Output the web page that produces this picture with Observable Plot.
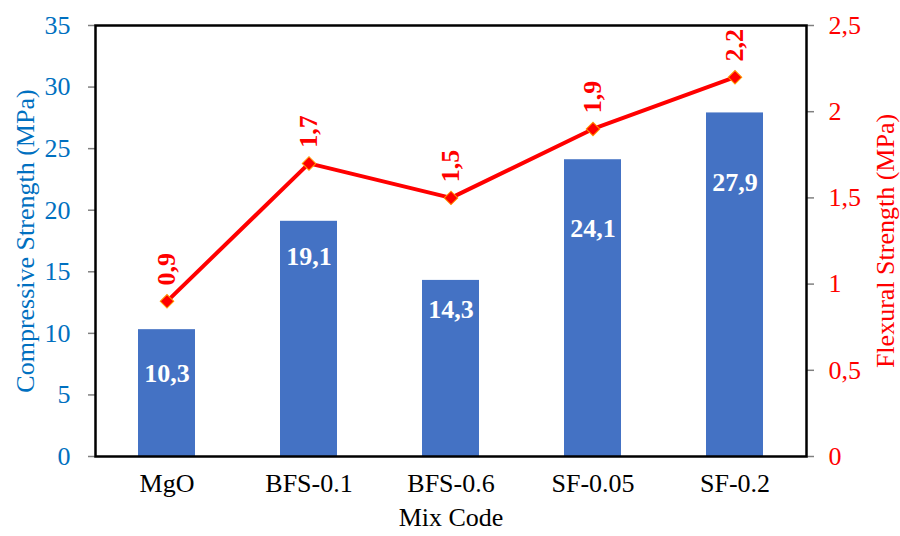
<!DOCTYPE html>
<html>
<head>
<meta charset="utf-8">
<script src="https://cdn.jsdelivr.net/npm/d3@7"></script>
<script src="https://cdn.jsdelivr.net/npm/@observablehq/plot@0.6"></script>
<style>
  body { margin: 0; background: #fff; }
</style>
</head>
<body>
<div id="chart"></div>
<script>
const categories = ["MgO", "BFS-0.1", "BFS-0.6", "SF-0.05", "SF-0.2"];
const compressive = [10.3, 19.1, 14.3, 24.1, 27.9];
const flexural = [0.9, 1.7, 1.5, 1.9, 2.2];
// label anchor heights (MPa)
const barLabelAt = [6.7, 16.2, 11.9, 18.5, 22.2];
const leftTicks = [0, 5, 10, 15, 20, 25, 30, 35];
const rightTicks = [0, 0.5, 1, 1.5, 2, 2.5];
const yMax = 35, y2Max = 2.5;
const ratio = yMax / y2Max;

const comma = v => String(v).replace(".", ",");
const rows = categories.map((c, i) => ({
  cat: c, comp: compressive[i], flex: flexural[i], flexY: flexural[i] * ratio, labY: barLabelAt[i]
}));

const blue = "#0070C0", red = "#FF0000", barBlue = "#4472C4";
const font = "Liberation Serif";

const boundaryTicks = Plot.ruleX([0], {
  render: (index, scales, values, dim) => {
    const g = d3.create("svg:g");
    const n = categories.length;
    const step = (dim.width - dim.marginLeft - dim.marginRight) / n;
    const y0 = dim.height - dim.marginBottom;
    for (let i = 0; i <= n; i++) {
      const x = dim.marginLeft + i * step;
      g.append("line").attr("x1", x).attr("x2", x).attr("y1", y0).attr("y2", y0 + 7)
        .attr("stroke", "#808080").attr("stroke-width", 1.5);
    }
    return g.node();
  }
});

const plot = Plot.plot({
  width: 900,
  height: 536,
  marginLeft: 95,
  marginRight: 94,
  marginTop: 25,
  marginBottom: 80,
  style: "font-family: 'Liberation Serif'; font-size: 26px; background: white;",
  x: { domain: categories, paddingInner: 0.6, paddingOuter: 0.3, axis: null },
  y: { domain: [0, yMax], axis: null },
  marks: [
    Plot.barY(rows, { x: "cat", y: "comp", fill: barBlue }),
    Plot.axisY({ anchor: "left", ticks: leftTicks, tickSize: 7, stroke: "#808080", strokeWidth: 1.5, text: null, label: null }),
    Plot.axisY({ anchor: "left", ticks: leftTicks, tickSize: 7, tickPadding: 18, stroke: "none", fill: blue, fontSize: 26, fontFamily: font, label: null }),
    Plot.axisY({ anchor: "right", ticks: rightTicks.map(v => v * ratio), tickSize: 7, stroke: "#808080", strokeWidth: 1.5, text: null, label: null }),
    Plot.axisY({ anchor: "right", ticks: rightTicks.map(v => v * ratio), tickFormat: d => comma(+(d / ratio).toFixed(2)), tickSize: 7, tickPadding: 15, stroke: "none", fill: red, fontSize: 26, fontFamily: font, label: null }),
    Plot.axisX({ anchor: "bottom", tickSize: 0, tickPadding: 17, fill: "black", fontSize: 26, fontFamily: font, label: null }),
    boundaryTicks,
    Plot.frame({ stroke: "black", strokeWidth: 2.5 }),
    Plot.text(rows, { x: "cat", y: "labY", text: d => comma(d.comp), fill: "white", fontWeight: "bold", fontSize: 26, fontFamily: font }),
    Plot.line(rows, { x: "cat", y: "flexY", stroke: red, strokeWidth: 4 }),
    Plot.dot(rows, { x: "cat", y: "flexY", symbol: "square", r: 5.4, rotate: 45, fill: red, stroke: "#FF9900", strokeWidth: 1 }),
    Plot.text(rows, { x: "cat", y: "flexY", text: d => comma(d.flex), rotate: -90, dy: -32, fill: red, fontWeight: "bold", fontSize: 26, fontFamily: font }),
    Plot.text(["Compressive Strength (MPa)"], { frameAnchor: "left", textAnchor: "middle", rotate: -90, dx: -70, fill: blue, fontSize: 26, fontFamily: font }),
    Plot.text(["Flexural Strength (MPa)"], { frameAnchor: "right", textAnchor: "middle", rotate: -90, dx: 79, fill: red, fontSize: 26, fontFamily: font }),
    Plot.text(["Mix Code"], { frameAnchor: "bottom", dy: 69, fill: "black", fontSize: 26, fontFamily: font })
  ]
});
document.getElementById("chart").appendChild(plot);
</script>
</body>
</html>
